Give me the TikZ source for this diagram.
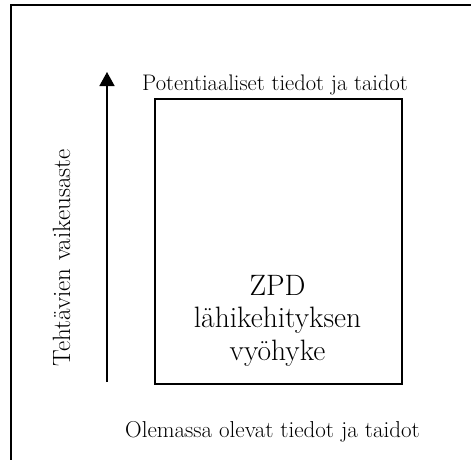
\documentclass[tikz,border=0pt]{standalone}
\usepackage{fontspec}
\setmainfont{Latin Modern Roman}
\usetikzlibrary{arrows.meta}
\begin{document}
\begin{tikzpicture}[x=1pt,y=-1pt,
  frameline/.style={line width=2pt},
  boxline/.style={line width=1.6pt},
  axisline/.style={line width=1.5pt,-{Triangle[length=14pt,width=15pt]}},
  small/.style={font=\fontsize{22.5}{26}\selectfont,inner sep=0pt},
  big/.style={font=\fontsize{29.5}{33}\selectfont,align=center,inner sep=0pt}]
  \useasboundingbox (0,0) rectangle (471,460);
  % outer frame (only top and left edges fall inside the page)
  \draw[frameline] (10.5,480) -- (10.5,5.5) -- (490,5.5);
  % zone box
  \node[draw,boxline,minimum width=247pt,minimum height=285pt,anchor=north west,inner sep=0pt] (zpd) at (154,98) {};
  \node[big,anchor=base] (zt) at (277.5,295) {ZPD};
  \node[big,anchor=base] (zt2) at (277.5,327) {lähikehityksen};
  \node[big,anchor=base] (zt3) at (277.5,360) {vyöhyke};
  % difficulty axis
  \coordinate (ab) at (107,382);
  \coordinate (at) at (107,72);
  \draw[axisline] (ab) -- (at);
  \node[small,font=\fontsize{25}{28}\selectfont,anchor=base,rotate=90] (ylab) at (70,258) {Tehtävien vaikeusaste};
  % labels
  \node[small,anchor=base west] (pot) at (142,90) {Potentiaaliset tiedot ja taidot};
  \node[small,font=\fontsize{23}{26}\selectfont,anchor=base west] (ole) at (125,437) {Olemassa olevat tiedot ja taidot};
\end{tikzpicture}
\end{document}
